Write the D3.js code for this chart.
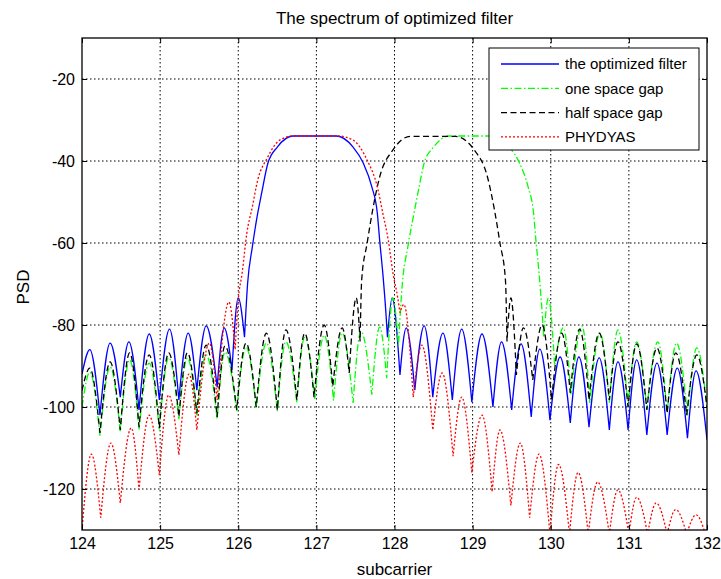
<!DOCTYPE html>
<html>
<head>
<meta charset="utf-8">
<script src="https://cdn.jsdelivr.net/npm/d3@7"></script>
<style>
  body { margin: 0; background: #fff; }
  text { font-family: "Liberation Sans", Arial, sans-serif; fill: #000; }
</style>
</head>
<body>
<svg id="chart" width="721" height="579"></svg>
<script>
// values: [subcarrier, PSD] at peaks / nulls / main lobe
const xTicks = [124, 125, 126, 127, 128, 129, 130, 131, 132];
const yTicks = [-120, -100, -80, -60, -40, -20];

const optimized = [
  [124.00,-92],[124.10,-86],[124.23,-102],[124.36,-84.4],[124.49,-97.6],[124.60,-84.1],[124.73,-100.7],
  [124.86,-82.2],[124.99,-98.3],[125.12,-81],[125.24,-98.3],[125.36,-82],[125.47,-95.9],[125.59,-80.2],
  [125.73,-95.1],[125.82,-80.7],[125.92,-91],[126.00,-73.4],[126.08,-83],
  [126.12,-69.8],[126.18,-61],[126.24,-53.7],[126.30,-47.8],[126.38,-40.5],[126.50,-36.6],[126.70,-33.9],
  [127.26,-33.9],[127.47,-36.6],[127.60,-40.5],[127.71,-46.3],[127.78,-52.7],[127.81,-59.3],[127.85,-67.3],
  [127.89,-77],[127.91,-83],
  [127.97,-73.4],[128.07,-92.2],[128.15,-80.7],[128.26,-95.9],[128.38,-80.2],[128.49,-97.6],[128.62,-82],
  [128.74,-98.3],[128.86,-81],[128.99,-98.8],[129.12,-82.2],[129.26,-100],[129.37,-84.1],[129.50,-100.7],
  [129.62,-84.6],[129.75,-102.4],[129.86,-85.9],[129.99,-103.2],[130.12,-87.8],[130.25,-103.9],[130.36,-87.8],
  [130.49,-104.9],[130.62,-88],[130.75,-105.6],[130.86,-89],[130.99,-105.6],[131.10,-88.5],[131.23,-106.8],
  [131.36,-89.3],[131.49,-106.8],[131.62,-90.5],[131.75,-107.6],[131.86,-91.2],[132.00,-108]
];

const oneGap = [
  [124.00,-100],[124.10,-91.5],[124.23,-107],[124.36,-90.2],[124.49,-106],[124.61,-88.5],[124.73,-105.5],
  [124.86,-89.3],[124.99,-105.5],[125.11,-88],[125.24,-103],[125.35,-88],[125.47,-102],[125.59,-87.3],
  [125.73,-103],[125.83,-86.6],[125.98,-101],[126.10,-85.4],[126.23,-100.5],[126.36,-84.4],[126.50,-101],
  [126.61,-84.1],[126.75,-99],[126.85,-83],[126.98,-98],[127.10,-82.5],[127.22,-98.5],[127.33,-82],
  [127.47,-99],[127.57,-81.5],[127.71,-97],[127.81,-80.5],[127.90,-93],[127.98,-73.4],[128.05,-85],
  [128.10,-70],[128.17,-61],[128.24,-53.7],[128.30,-47.8],[128.38,-40.5],[128.50,-36.6],[128.70,-33.9],
  [129.26,-33.9],[129.47,-36.6],[129.60,-40.5],[129.71,-46.3],[129.78,-52.7],[129.81,-59.3],[129.85,-67.3],
  [129.89,-77],[129.91,-83],
  [129.97,-73.4],[130.05,-90],[130.16,-80.7],[130.26,-97],[130.40,-80.2],[130.50,-99],[130.63,-82],
  [130.75,-99],[130.86,-81.2],[130.99,-100],[131.10,-84.1],[131.23,-100.5],[131.37,-84.1],[131.49,-101.5],
  [131.61,-84.4],[131.75,-102],[131.87,-85.6],[132.00,-100]
];

const halfGap = [
  [124.00,-96],[124.10,-90.5],[124.23,-106.3],[124.36,-89],[124.49,-105.6],[124.61,-86.8],[124.73,-104.9],
  [124.86,-87.3],[124.99,-105.1],[125.11,-86.8],[125.24,-102.4],[125.35,-86.8],[125.47,-101.5],[125.59,-84.9],
  [125.73,-102.4],[125.83,-85.1],[125.98,-100.7],[126.10,-84.4],[126.23,-100],[126.36,-82],[126.50,-100.7],
  [126.61,-81.2],[126.75,-98.3],[126.85,-82],[126.97,-97.6],[127.10,-80],[127.21,-95],[127.33,-80.7],
  [127.42,-91.7],[127.51,-73.4],[127.56,-84],
  [127.58,-69],[127.65,-60],[127.72,-52],[127.81,-43.9],[127.98,-37.3],[128.20,-34],[128.78,-34],
  [129.02,-37.3],[129.19,-43.9],[129.28,-52],[129.35,-60],[129.42,-69],[129.44,-84],
  [129.49,-73.4],[129.56,-92.2],[129.65,-80.7],[129.77,-93.4],[129.89,-80],[130.01,-98.3],[130.14,-82],
  [130.25,-96.6],[130.37,-81],[130.49,-98.3],[130.62,-82],[130.75,-98.3],[130.86,-84.1],[130.99,-100],
  [131.10,-84.6],[131.23,-100.7],[131.36,-85.6],[131.49,-101.5],[131.60,-86.8],[131.74,-102],[131.87,-87.3],
  [132.00,-100]
];

const phydyas = [
  [124.00,-130],[124.12,-111.5],[124.24,-127],[124.37,-108.8],[124.49,-123.4],[124.63,-105.1],[124.73,-120.2],
  [124.86,-102],[124.99,-116.6],[125.11,-97.1],[125.24,-111.7],[125.37,-92],[125.47,-105.6],[125.63,-84.4],
  [125.73,-98.3],[125.88,-74.4],[125.96,-86],
  [126.00,-73.9],[126.05,-67.3],[126.11,-57.6],[126.18,-51.2],[126.25,-44.6],[126.37,-39.3],[126.53,-34.9],
  [126.70,-33.9],[127.28,-33.9],[127.47,-34.9],[127.65,-39.8],[127.78,-46.3],[127.85,-52.7],[127.92,-59.3],
  [127.98,-67.3],[128.04,-73.2],[128.07,-77],
  [128.12,-75],[128.24,-97.6],[128.35,-84.9],[128.49,-105.6],[128.61,-91.7],[128.75,-112],[128.86,-97.6],
  [128.99,-116],[129.12,-102],[129.25,-120.7],[129.35,-105.6],[129.49,-124],[129.61,-108.8],[129.73,-127],
  [129.85,-111.5],[129.99,-131],[130.10,-114],[130.24,-131],[130.35,-116],[130.48,-131],[130.60,-118.3],
  [130.75,-131],[130.86,-120.2],[131.00,-131],[131.10,-122],[131.24,-131],[131.35,-123.4],[131.49,-131],
  [131.60,-125],[131.74,-131],[131.86,-126.3],[131.98,-131]
];

const seriesNames = ["the optimized filter", "one space gap", "half space gap", "PHYDYAS"];
const seriesData = [optimized, oneGap, halfGap, phydyas];
const seriesColors = ["#0000ff", "#00ff00", "#000000", "#ff0000"];
const seriesDash = [null, "7,2.5,1.5,2.5", "6,3.5", "2,2"];

const svg = d3.select("#chart");

const x = d3.scaleLinear().domain([124, 132]).range([82, 707]);
const y = d3.scaleLinear().domain([-130, -10]).range([530, 38]);

svg.append("rect").attr("width", 721).attr("height", 579).attr("fill", "#fff");

// grid
const grid = svg.append("g").attr("stroke", "#000").attr("stroke-width", 1)
  .attr("stroke-dasharray", "1.5,2.5");
grid.selectAll(".gx").data(xTicks.slice(1, -1)).join("line")
  .attr("x1", d => x(d)).attr("x2", d => x(d)).attr("y1", 38).attr("y2", 530);
grid.selectAll(".gy").data(yTicks).join("line")
  .attr("y1", d => y(d)).attr("y2", d => y(d)).attr("x1", 82).attr("x2", 707);

// curves
svg.append("clipPath").attr("id", "clip")
  .append("rect").attr("x", 82).attr("y", 38).attr("width", 625).attr("height", 492);

const line = d3.line().x(d => x(d[0])).y(d => y(d[1])).curve(d3.curveMonotoneX);

// each lobe is drawn between two nulls so the nulls stay sharp
function lobePath(pts) {
  const cuts = [0];
  for (let i = 1; i < pts.length - 1; i++) {
    if (pts[i][1] < pts[i - 1][1] && pts[i][1] < pts[i + 1][1]) cuts.push(i);
  }
  cuts.push(pts.length - 1);
  let d = "";
  for (let k = 0; k < cuts.length - 1; k++) {
    let s = line(pts.slice(cuts[k], cuts[k + 1] + 1));
    if (k > 0) s = "L" + s.slice(1);
    d += s;
  }
  return d;
}

const plot = svg.append("g").attr("clip-path", "url(#clip)");
seriesData.forEach((pts, i) => {
  plot.append("path")
    .attr("d", lobePath(pts))
    .attr("fill", "none")
    .attr("stroke", seriesColors[i])
    .attr("stroke-width", 1.3)
    .attr("stroke-dasharray", seriesDash[i]);
});

// axes (inward ticks on all sides)
const fmt = d => String(d);
svg.append("g").attr("transform", "translate(0,530)")
  .call(d3.axisBottom(x).tickValues(xTicks).tickSize(-5).tickSizeOuter(0).tickPadding(8).tickFormat(fmt));
svg.append("g").attr("transform", "translate(82,0)")
  .call(d3.axisLeft(y).tickValues(yTicks).tickSize(-5).tickSizeOuter(0).tickPadding(7).tickFormat(fmt));
svg.append("g").attr("transform", "translate(0,38)")
  .call(d3.axisTop(x).tickValues(xTicks).tickSize(-5).tickSizeOuter(0).tickFormat(""));
svg.append("g").attr("transform", "translate(707,0)")
  .call(d3.axisRight(y).tickValues(yTicks).tickSize(-5).tickSizeOuter(0).tickFormat(""));

svg.selectAll(".domain").remove();
svg.selectAll(".tick line").attr("stroke", "#000").attr("stroke-width", 1);
svg.selectAll(".tick text").style("font-size", "16px")
  .style("font-family", "'Liberation Sans', Arial, sans-serif").attr("fill", "#000");

svg.append("rect").attr("x", 82).attr("y", 38).attr("width", 625).attr("height", 492)
  .attr("fill", "none").attr("stroke", "#000").attr("stroke-width", 1.3);

// legend
const lg = svg.append("g");
lg.append("rect").attr("x", 489).attr("y", 48).attr("width", 210).attr("height", 102)
  .attr("fill", "#fff").attr("stroke", "#000").attr("stroke-width", 1);
seriesNames.forEach((name, i) => {
  const ly = 64 + i * 24.3;
  lg.append("line").attr("x1", 501).attr("x2", 559).attr("y1", ly).attr("y2", ly)
    .attr("stroke", seriesColors[i]).attr("stroke-width", 1.3)
    .attr("stroke-dasharray", seriesDash[i]);
  lg.append("text").attr("x", 565).attr("y", ly).attr("dy", "0.35em")
    .style("font-size", "15px").text(name);
});

// titles
svg.append("text").attr("x", 394.5).attr("y", 24).attr("text-anchor", "middle")
  .style("font-size", "17px").text("The spectrum of optimized filter");
svg.append("text").attr("x", 394.5).attr("y", 575).attr("text-anchor", "middle")
  .style("font-size", "17px").text("subcarrier");
svg.append("text").attr("transform", "translate(29,287) rotate(-90)").attr("text-anchor", "middle")
  .style("font-size", "17px").text("PSD");
</script>
</body>
</html>
